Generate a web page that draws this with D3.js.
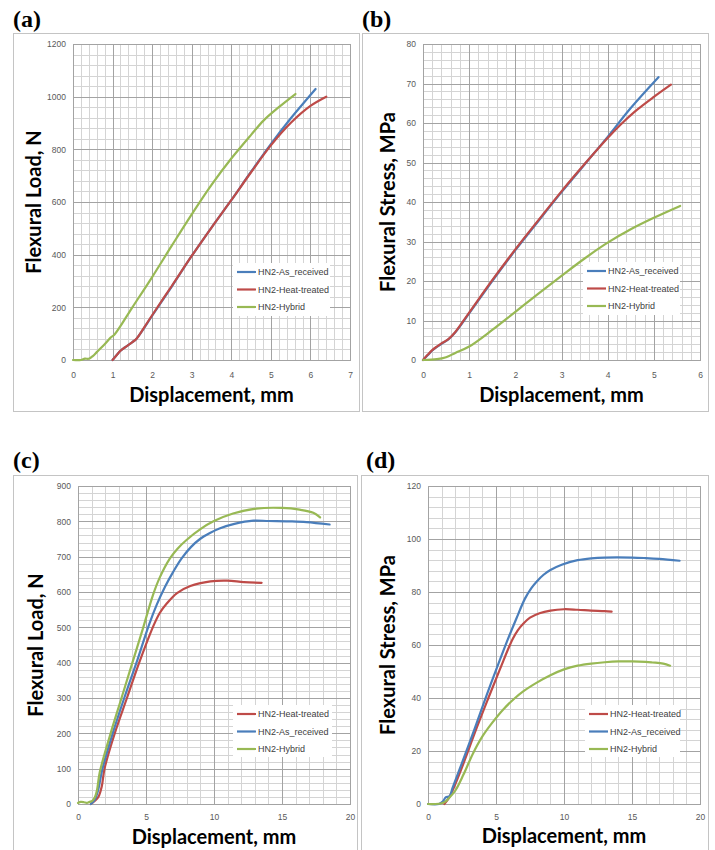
<!DOCTYPE html>
<html>
<head>
<meta charset="utf-8">
<script src="https://cdn.jsdelivr.net/npm/d3@7"></script>
<style>
  body { margin: 0; background: #fff; }
  svg { display: block; }
  .panel-label { font-family: "Liberation Serif", "Times New Roman", serif; font-weight: bold; font-size: 24px; fill: #000; }
  .axis-title { font-family: Lato, "Open Sans", sans-serif; font-weight: bold; font-size: 20px; fill: #000; }
  .legend-text { font-family: "Liberation Sans", Arial, sans-serif; font-size: 9px; fill: #404040; }
</style>
</head>
<body>
<svg id="fig" width="715" height="850"></svg>
<script>

/* DATA: [displacement mm, value] */

// (a) flexural load, short span
var aAsReceived = [[1.0,0],[1.1,18],[1.2,35],[1.35,52],[1.5,68],[1.6,80],[1.8,122],[2.0,168],[2.5,280],[3.0,395],[3.5,503],[4.0,607],[4.5,715],[5.0,820],[5.5,917],[6.13,1029]];
var aHeatTreated = [[1.0,0],[1.1,18],[1.2,35],[1.35,52],[1.5,68],[1.6,80],[1.8,124],[2.0,170],[2.5,282],[3.0,395],[3.5,503],[4.0,607],[4.5,713],[5.0,815],[5.5,900],[6.0,965],[6.4,1000]];
var aHybrid = [[0,0],[0.2,0],[0.3,5],[0.4,5],[0.5,15],[0.6,30],[0.8,60],[0.95,85],[1.05,97],[1.5,200],[2.0,315],[2.5,435],[3.0,553],[3.5,665],[4.0,765],[4.5,855],[4.82,910],[5.2,960],[5.62,1010]];

// (b) flexural stress, short span
var bAsReceived = [[0,0],[0.1,1.2],[0.2,2.4],[0.3,3.3],[0.4,4.1],[0.55,5.2],[0.7,7],[1.0,11.8],[1.5,20],[2.0,27.8],[2.5,35.2],[3.0,42.5],[3.5,49.5],[4.0,56.5],[4.5,63.8],[5.1,71.6]];
var bHeatTreated = [[0,0],[0.1,1.3],[0.2,2.5],[0.3,3.4],[0.4,4.2],[0.55,5.3],[0.7,7.1],[1.0,12],[1.5,20.2],[2.0,28],[2.5,35.4],[3.0,42.7],[3.5,49.6],[4.0,56.2],[4.3,59.8],[4.6,63],[5.0,66.6],[5.37,69.7]];
var bHybrid = [[0,0],[0.3,0.2],[0.5,0.7],[0.7,1.8],[1.0,3.4],[1.5,7.6],[2.0,12.2],[2.5,16.8],[3.0,21.3],[3.5,25.7],[4.0,29.7],[4.5,33.1],[5.0,36],[5.57,39]];

// (c) flexural load, long span
var cHeatTreated = [[0.95,0],[1.2,8],[1.5,20],[1.75,50],[1.95,100],[2.7,200],[3.6,300],[4.5,400],[5.5,500],[6.0,540],[6.54,568],[7.28,597],[8.26,617],[9.74,630],[10.97,632],[12.2,628],[13.5,626]];
var cAsReceived = [[0.95,0],[1.2,10],[1.45,35],[1.8,100],[2.55,200],[3.4,300],[4.3,400],[5.2,505],[5.8,565],[6.4,615],[7.0,657],[7.62,695],[8.3,727],[8.97,750],[9.7,767],[10.4,780],[11.5,793],[12.9,802],[14.0,801],[15.5,800],[16.8,798],[18.5,791]];
var cHybrid = [[0,3],[0.2,6],[0.45,5],[0.65,3],[0.85,6],[1.05,9],[1.25,20],[1.4,40],[1.6,90],[2.4,200],[3.2,300],[4.0,400],[4.8,500],[5.5,590],[6.0,640],[6.76,695],[7.3,722],[8.0,748],[9.0,778],[9.96,800],[11.4,822],[13.1,836],[15.0,838],[16.3,833],[17.3,824],[17.8,811]];

// (d) flexural stress, long span
var dHeatTreated = [[1.2,0],[1.5,2],[1.8,5],[2.4,12.5],[3.6,29],[4.44,40],[5.3,51],[6.2,62],[6.6,65.5],[7.0,68],[7.5,70.3],[8.2,72],[9.0,73],[10.0,73.5],[11.0,73.3],[12.0,73],[13.0,72.8],[13.5,72.6]];
var dAsReceived = [[0,0],[0.8,0],[1.1,1],[1.3,2.5],[1.6,3],[1.8,6],[2.5,15.5],[3.4,28],[4.2,39.5],[5.0,50.5],[5.86,62],[6.5,70],[7.13,77.5],[7.6,81.5],[8.0,84],[8.5,86.5],[9.0,88.3],[9.83,90.3],[11.0,92],[12.0,92.7],[13.0,93],[15.0,93],[16.0,92.8],[17.0,92.5],[18.5,91.8]];
var dHybrid = [[0,0],[0.5,0],[1.0,0.3],[1.3,1],[1.5,2],[2.0,5],[2.6,11],[3.3,19],[4.0,25.5],[4.7,30.5],[5.5,35.5],[6.4,40],[7.0,42.5],[8.0,45.8],[9.0,48.6],[10.0,50.8],[11.0,52.2],[12.0,53],[13.0,53.5],[14.0,53.8],[15.0,53.8],[16.0,53.6],[16.5,53.4],[17.3,53],[17.8,52.2]];

/* TICK LABELS */
var aXTicks = [0,1,2,3,4,5,6,7];
var aYTicks = [0,200,400,600,800,1000,1200];
var bXTicks = [0,1,2,3,4,5,6];
var bYTicks = [0,10,20,30,40,50,60,70,80];
var cXTicks = [0,5,10,15,20];
var cYTicks = [0,100,200,300,400,500,600,700,800,900];
var dXTicks = [0,5,10,15,20];
var dYTicks = [0,20,40,60,80,100,120];

var blue = '#4a7ebb';
var red = '#be4b48';
var green = '#98b954';

var panels = [
  { label: '(a)', labelX: 13, labelY: 27, box: [13, 33, 359, 411], plot: [73, 44, 350, 360],
    xTicks: aXTicks, yTicks: aYTicks, xSub: 5, ySub: 5, xPad: 12,
    yTitle: 'Flexural Load, N', yTitleX: 41, xTitleY: 402, legend: [233, 263, 97, 53],
    series: [{name: 'HN2-As_received', color: blue, data: aAsReceived},
             {name: 'HN2-Heat-treated', color: red, data: aHeatTreated},
             {name: 'HN2-Hybrid', color: green, data: aHybrid}] },
  { label: '(b)', labelX: 362, labelY: 27, box: [362, 33, 708, 411], plot: [423, 44, 700, 360],
    xTicks: bXTicks, yTicks: bYTicks, xSub: 5, ySub: 5, xPad: 12,
    yTitle: 'Flexural Stress, MPa', yTitleX: 395, xTitleY: 402, legend: [583, 262, 97, 53],
    series: [{name: 'HN2-As_received', color: blue, data: bAsReceived},
             {name: 'HN2-Heat-treated', color: red, data: bHeatTreated},
             {name: 'HN2-Hybrid', color: green, data: bHybrid}] },
  { label: '(c)', labelX: 13, labelY: 468, box: [13, 475, 357, 860], plot: [78, 486, 350, 804],
    xTicks: cXTicks, yTicks: cYTicks, xSub: 5, ySub: 5, xPad: 10,
    yTitle: 'Flexural Load, N', yTitleX: 43, xTitleY: 844, legend: [233, 705, 99, 52],
    series: [{name: 'HN2-Heat-treated', color: red, data: cHeatTreated},
             {name: 'HN2-As_received', color: blue, data: cAsReceived},
             {name: 'HN2-Hybrid', color: green, data: cHybrid}] },
  { label: '(d)', labelX: 366, labelY: 468, box: [361, 475, 708, 860], plot: [428, 486, 700, 804],
    xTicks: dXTicks, yTicks: dYTicks, xSub: 5, ySub: 5, xPad: 10,
    yTitle: 'Flexural Stress, MPa', yTitleX: 395, xTitleY: 843, legend: [585, 705, 95, 52],
    series: [{name: 'HN2-Heat-treated', color: red, data: dHeatTreated},
             {name: 'HN2-As_received', color: blue, data: dAsReceived},
             {name: 'HN2-Hybrid', color: green, data: dHybrid}] }
];


/* DRAW ONE PANEL */
function drawPanel(svg, p) {
  var g = svg.append('g');

  // outer chart border
  g.append('rect')
    .attr('x', p.box[0] + 0.5)
    .attr('y', p.box[1] + 0.5)
    .attr('width', p.box[2] - p.box[0])
    .attr('height', p.box[3] - p.box[1])
    .attr('fill', '#fff')
    .attr('stroke', '#c4c4c4');

  g.append('text')
    .attr('class', 'panel-label')
    .attr('x', p.labelX)
    .attr('y', p.labelY)
    .text(p.label);

  var w = p.plot[2] - p.plot[0];
  var h = p.plot[3] - p.plot[1];

  var x = d3.scaleLinear()
    .domain(d3.extent(p.xTicks))
    .range([p.plot[0], p.plot[2]]);
  var y = d3.scaleLinear()
    .domain(d3.extent(p.yTicks))
    .range([p.plot[3], p.plot[1]]);

  var xMinor = subdivide(p.xTicks, p.xSub);
  var yMinor = subdivide(p.yTicks, p.ySub);

  // minor grid
  g.append('g')
    .attr('transform', translate(0, p.plot[3]))
    .call(d3.axisBottom(x).tickValues(xMinor).tickSize(-h).tickFormat(''))
    .call(styleGrid, '#d4d4d4');
  g.append('g')
    .attr('transform', translate(p.plot[0], 0))
    .call(d3.axisLeft(y).tickValues(yMinor).tickSize(-w).tickFormat(''))
    .call(styleGrid, '#d4d4d4');

  // major grid with labels
  g.append('g')
    .attr('transform', translate(0, p.plot[3]))
    .call(d3.axisBottom(x).tickValues(p.xTicks).tickSize(-h).tickPadding(p.xPad).tickFormat(d => String(d)))
    .call(styleGrid, '#a3a3a3');
  g.append('g')
    .attr('transform', translate(p.plot[0], 0))
    .call(d3.axisLeft(y).tickValues(p.yTicks).tickSize(-w).tickPadding(7).tickFormat(d => String(d)))
    .call(styleGrid, '#a3a3a3');

  // plot frame
  g.append('rect')
    .attr('x', p.plot[0] + 0.5)
    .attr('y', p.plot[1] + 0.5)
    .attr('width', w)
    .attr('height', h)
    .attr('fill', 'none')
    .attr('stroke', '#a3a3a3');

  // curves (smoothed like the spreadsheet's lines)
  var line = d3.line()
    .x(d => x(d[0]))
    .y(d => y(d[1]))
    .curve(d3.curveCatmullRom.alpha(0.5));

  g.append('g').selectAll('path')
    .data(p.series)
    .enter()
    .append('path')
    .attr('d', d => line(d.data))
    .attr('fill', 'none')
    .attr('stroke', d => d.color)
    .attr('stroke-width', 2.2)
    .attr('stroke-linejoin', 'round')
    .attr('stroke-linecap', 'round');

  drawLegend(g, p);

  // axis titles
  g.append('text')
    .attr('class', 'axis-title')
    .attr('text-anchor', 'middle')
    .attr('x', p.plot[0] + w / 2)
    .attr('y', p.xTitleY)
    .text('Displacement, mm');

  g.append('text')
    .attr('class', 'axis-title')
    .attr('text-anchor', 'middle')
    .attr('transform', translate(p.yTitleX, p.plot[1] + h / 2) + ' rotate(-90)')
    .text(p.yTitle);
}


/* LEGEND */
function drawLegend(g, p) {
  var lg = g.append('g').attr('transform', translate(p.legend[0], p.legend[1]));

  lg.append('rect')
    .attr('width', p.legend[2])
    .attr('height', p.legend[3])
    .attr('fill', '#fff');

  var rows = lg.selectAll('g.row')
    .data(p.series)
    .enter()
    .append('g')
    .attr('class', 'row')
    .attr('transform', (d, i) => translate(4, 9 + i * 17.5));

  rows.append('line')
    .attr('x1', 0)
    .attr('x2', 19)
    .attr('stroke', d => d.color)
    .attr('stroke-width', 2.2);

  rows.append('text')
    .attr('class', 'legend-text')
    .attr('x', 21)
    .attr('dy', '0.35em')
    .text(d => d.name);
}


/* HELPERS */
function styleGrid(sel, color) {
  sel.select('.domain').remove();
  sel.selectAll('.tick line').attr('stroke', color).attr('shape-rendering', 'crispEdges');
  sel.selectAll('.tick text')
    .attr('fill', '#595959')
    .attr('font-size', 8.5)
    .attr('font-family', '"Liberation Sans", Arial, sans-serif');
}

function subdivide(ticks, n) {
  var out = [];
  for (var i = 0; i < ticks.length - 1; i++) {
    var step = (ticks[i + 1] - ticks[i]) / n;
    for (var k = 1; k < n; k++) out.push(ticks[i] + k * step);
  }
  return out;
}

function translate(x, y) {
  return 'translate(' + String(x) + ',' + String(y) + ')';
}

var svg = d3.select('#fig');
panels.forEach(p => drawPanel(svg, p));

</script>
</body>
</html>
